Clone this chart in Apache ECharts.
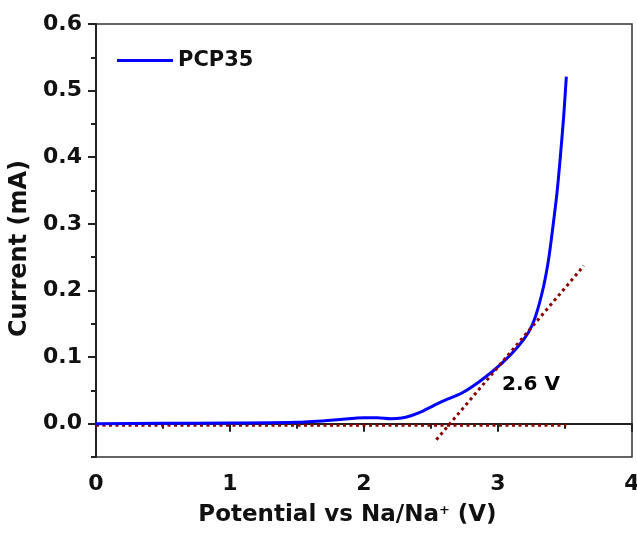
<!DOCTYPE html>
<html>
<head>
<meta charset="utf-8">
<script src="https://cdn.jsdelivr.net/npm/echarts@6/dist/echarts.min.js"></script>
<style>html,body{margin:0;padding:0;background:#fff}#c{width:637px;height:536px}</style>
</head>
<body>
<div id="c"></div>
<script>
// ---- data ----
var potential = [0, 0.5, 1.0, 1.5, 1.8, 2.0, 2.1, 2.2, 2.28, 2.35, 2.43, 2.58, 2.73, 2.88, 3.03, 3.15, 3.23, 3.28, 3.34, 3.38, 3.41, 3.44, 3.465, 3.49, 3.51];
var current   = [0, 0.0005, 0.001, 0.002, 0.006, 0.009, 0.009, 0.0075, 0.0085, 0.012, 0.018, 0.033, 0.046, 0.066, 0.091, 0.116, 0.138, 0.161, 0.206, 0.25, 0.296, 0.346, 0.40, 0.461, 0.521];
var baseX = [0, 3.51];
var baseY = [-0.0025, -0.0025];
var tangentX = [2.54, 3.64];
var tangentY = [-0.024, 0.237];
var annotX = [3.03];
var annotY = [0.058];
var annotText = ['2.6 V'];
var yMajor = [0, 0.1, 0.2, 0.3, 0.4, 0.5, 0.6];
var yMinor = [-0.05, 0.05, 0.15, 0.25, 0.35, 0.45, 0.55];
var seriesName = 'PCP35';

function pairs(xs, ys){ return xs.map(function(x,i){ return [x, ys[i]]; }); }

var FONT = 'DejaVu Sans';
var chart = echarts.init(document.getElementById('c'), null, {renderer:'canvas'});
chart.setOption({
  animation: false,
  backgroundColor: '#fff',
  grid: {left: 96, right: 5, top: 24, bottom: 79, show: true, borderColor: '#333', borderWidth: 1.5, outerBoundsMode: 'none', containLabel: false},
  legend: {
    data: [seriesName], left: 117, top: 50, padding: 0, icon: 'rect', itemWidth: 56, itemHeight: 3, itemGap: 7,
    textStyle: {fontFamily: FONT, fontWeight: 'bold', fontSize: 21, color: '#111'}
  },
  xAxis: {
    type: 'value', min: 0, max: 4, interval: 1,
    name: 'Potential vs Na/Na{sup|+} (V)', nameLocation: 'middle', nameGap: 47,
    nameTextStyle: {fontFamily: FONT, fontWeight: 'bold', fontSize: 23, color: '#111', padding: [0, 33, 0, 0],
      rich: {sup: {fontFamily: FONT, fontWeight: 'bold', fontSize: 13, color: '#111', verticalAlign: 'top', padding: [0,0,10,0]}}},
    axisLine: {lineStyle: {color: '#222', width: 2}},
    axisTick: {inside: false, length: 8, lineStyle: {color: '#222', width: 2}},
    minorTick: {show: true, splitNumber: 2, length: 5, lineStyle: {color: '#222', width: 2}},
    splitLine: {show: false},
    axisLabel: {fontFamily: FONT, fontWeight: 'bold', fontSize: 22, color: '#111', margin: 16}
  },
  yAxis: [{
    type: 'value', min: -0.05, max: 0.6,
    name: 'Current (mA)', nameLocation: 'middle', nameGap: 58, nameRotate: 90,
    nameTextStyle: {fontFamily: FONT, fontWeight: 'bold', fontSize: 24, color: '#111', padding: [0, 16, 0, 0]},
    axisLine: {lineStyle: {color: '#222', width: 2}},
    axisTick: {inside: false, length: 8, customValues: yMajor, lineStyle: {color: '#222', width: 2}},
    splitLine: {show: false},
    axisLabel: {customValues: yMajor, fontFamily: FONT, fontWeight: 'bold', fontSize: 22, color: '#111', margin: 14,
      formatter: function(v){ return v.toFixed(1); }}
  }, {
    type: 'value', min: -0.05, max: 0.6, position: 'left', offset: 0,
    axisLine: {show: false},
    axisTick: {show: true, inside: false, length: 5, customValues: yMinor, lineStyle: {color: '#222', width: 2}},
    axisLabel: {show: false},
    splitLine: {show: false}
  }],
  series: [{
    name: seriesName, type: 'line', data: pairs(potential, current), smooth: 0.25,
    showSymbol: false, lineStyle: {color: '#0000FF', width: 3}, itemStyle: {color: '#0000FF'}, z: 3
  }, {
    name: 'baseline', type: 'line', data: pairs(baseX, baseY), showSymbol: false,
    lineStyle: {color: '#8B0000', width: 3, type: [3, 3.5]}, z: 2
  }, {
    name: 'tangent', type: 'line', data: pairs(tangentX, tangentY), showSymbol: false,
    lineStyle: {color: '#8B0000', width: 3, type: [3, 3.5]}, z: 4
  }, {
    name: 'annot', type: 'scatter', data: pairs(annotX, annotY), symbolSize: 0, itemStyle: {color: '#000', opacity: 1},
    label: {show: true, position: 'right', distance: 0, formatter: function(p){ return annotText[p.dataIndex]; },
      fontFamily: FONT, fontWeight: 'bold', fontSize: 20, color: '#000', opacity: 1}
  }]
});
</script>
</body>
</html>
